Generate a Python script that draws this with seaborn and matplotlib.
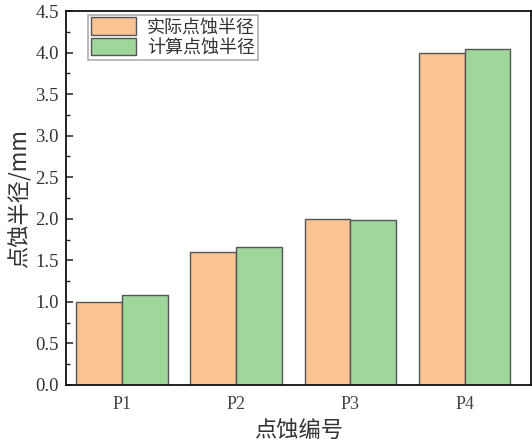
import matplotlib
matplotlib.use("Agg")
import matplotlib.pyplot as plt
import seaborn as sns
import pandas as pd
from matplotlib.ticker import MultipleLocator

categories = ["P1", "P2", "P3", "P4"]
actual = [1.00, 1.60, 2.00, 4.00]
computed = [1.08, 1.66, 1.99, 4.05]
series_names = ["实际点蚀半径", "计算点蚀半径"]
colors = ["#F9C393", "#9ED69B"]

df = pd.DataFrame({
    "cat": categories * 2,
    "val": actual + computed,
    "series": [series_names[0]] * 4 + [series_names[1]] * 4,
})

sns.set_theme(style="white")
plt.rcParams["font.family"] = ["Liberation Serif", "Noto Sans CJK SC", "DejaVu Sans"]

fig = plt.figure(figsize=(5.32, 4.45), dpi=100)
ax = fig.add_axes([0.124, 0.135, 0.874, 0.840])
sns.barplot(data=df, x="cat", y="val", hue="series", palette=colors,
            width=0.8, edgecolor="#555555", linewidth=1.0, ax=ax, saturation=1)

ax.set_xlim(-0.49, 3.58)
ax.set_ylim(0, 4.5)
ax.yaxis.set_major_locator(MultipleLocator(0.5))
ax.yaxis.set_minor_locator(MultipleLocator(0.25))
ax.set_yticklabels([f"{v:.1f}" for v in ax.get_yticks()])
ax.tick_params(axis="y", which="major", direction="in", length=5, width=1.2, left=True, labelsize=13.5, colors="#333333", pad=5)
ax.tick_params(axis="y", which="minor", direction="in", length=3, width=1.0, left=True)
ax.tick_params(axis="x", length=0, labelsize=13, colors="#444444", pad=8)
for s in ax.spines.values():
    s.set_color("#111111")
    s.set_linewidth(1.3)
ax.set_xlabel("点蚀编号", fontsize=16, family=["Noto Sans CJK SC"], labelpad=4, color="#333333")
ax.set_ylabel("点蚀半径/mm", fontsize=16, family=["Noto Sans CJK SC"], labelpad=3, color="#333333")

leg = ax.legend(loc="upper left", bbox_to_anchor=(0.04, 1.0), frameon=True, fancybox=False,
                prop={"family": "Noto Sans CJK SC", "size": 13}, handlelength=2.5, handleheight=1.1,
                borderpad=0.15, labelspacing=0.1, handletextpad=0.6, borderaxespad=0.2)
leg.get_frame().set_edgecolor("#999999")
leg.get_frame().set_linewidth(1.2)
for t in leg.get_texts():
    t.set_color("#333333")
leg.set_title(None)

fig.savefig("out.png", dpi=100)
